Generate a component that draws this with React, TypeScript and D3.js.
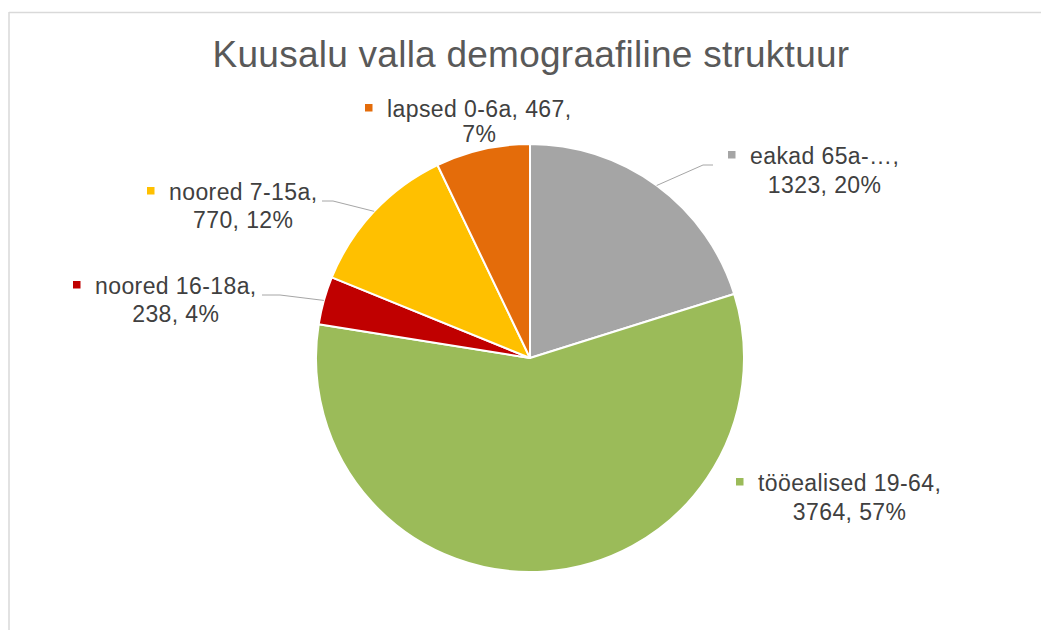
import React from "react";
import * as d3 from "d3";

const categories = ["eakad 65a-…", "tööealised 19-64", "noored 16-18a", "noored 7-15a", "lapsed 0-6a"];
const values = [1323, 3764, 238, 770, 467];
const percents = ["20%", "57%", "4%", "12%", "7%"];
const colors = ["#A5A5A5", "#9BBB59", "#C00000", "#FFC000", "#E46C0A"];
const title = "Kuusalu valla demograafiline struktuur";

// label layout: text line1 start x, baseline y, line gap, leader elbow
const labelLayout = [
  { x: 750, y: 164, gap: 28.5, leader: true, elbowX: 713, elbowLen: 10, firstLineHasValue: false },
  { x: 758, y: 491, gap: 28.5, leader: false, elbowX: 0, elbowLen: 0, firstLineHasValue: false },
  { x: 95, y: 294, gap: 28, leader: true, elbowX: 262, elbowLen: 18, firstLineHasValue: false },
  { x: 169, y: 200, gap: 28, leader: true, elbowX: 322, elbowLen: 11, firstLineHasValue: false },
  { x: 387, y: 117, gap: 25, leader: false, elbowX: 0, elbowLen: 0, firstLineHasValue: true },
];

const W = 1041;
const H = 630;
const cx = 530;
const cy = 358;
const R = 214;
const FONT = "'Liberation Sans', Arial, sans-serif";
const FS = 23;
const LS = 0.4;

let ctx: CanvasRenderingContext2D | null = null;
function measure(s: string, fs: number): number {
  if (typeof document === "undefined") return s.length * fs * 0.5;
  if (!ctx) ctx = document.createElement("canvas").getContext("2d");
  if (!ctx) return s.length * fs * 0.5;
  ctx.font = `${fs}px 'Liberation Sans', Arial, sans-serif`;
  return ctx.measureText(s).width + s.length * LS;
}

export default function App() {
  const pie = d3.pie<number>().sort(null).value((d) => d)(values);
  const arc = d3.arc<d3.PieArcDatum<number>>().innerRadius(0).outerRadius(R);
  return (
    <svg width={W} height={H} style={{ position: "absolute", left: 0, top: 0, background: "#fff" }}>
      <rect x={0} y={0} width={W} height={H} fill="#fff" />
      <line x1={9} y1={12.5} x2={W} y2={12.5} stroke="#D9D9D9" strokeWidth={1.5} />
      <line x1={9} y1={12} x2={9} y2={H} stroke="#D9D9D9" strokeWidth={1.5} />
      <text x={cx + 1} y={67} textAnchor="middle" fontFamily={FONT} fontSize={37} letterSpacing={0.25} fill="#595959">
        {title}
      </text>
      <g transform={`translate(${cx},${cy})`}>
        {pie.map((p, i) => (
          <path key={i} d={arc(p) || ""} fill={colors[i]} stroke="#fff" strokeWidth={2} strokeLinejoin="round" />
        ))}
      </g>
      {pie.map((p, i) => {
        const L = labelLayout[i];
        const mid = (p.startAngle + p.endAngle) / 2;
        const sx = cx + R * Math.sin(mid);
        const sy = cy - R * Math.cos(mid);
        const l1 = L.firstLineHasValue ? `${categories[i]}, ${values[i]},` : `${categories[i]},`;
        const line2 = L.firstLineHasValue ? percents[i] : `${values[i]}, ${percents[i]}`;
        const tw = measure(l1, FS);
        const textCenter = L.x + tw / 2;
        let leader = null;
        if (L.leader) {
          const ey = L.y + 1;
          const right = sx > cx;
          const ex = L.elbowX;
          const kx = right ? ex - L.elbowLen : ex + L.elbowLen;
          leader = (
            <polyline
              points={`${sx},${sy} ${kx},${ey} ${ex},${ey}`}
              fill="none"
              stroke="#A6A6A6"
              strokeWidth={1}
            />
          );
        }
        return (
          <g key={"l" + i}>
            {leader}
            <rect x={L.x - 22} y={L.y - 13} width={7.5} height={7.5} fill={colors[i]} />
            <text x={L.x} y={L.y} fontFamily={FONT} fontSize={FS} letterSpacing={LS} fill="#404040">
              {l1}
            </text>
            <text x={textCenter} y={L.y + L.gap} textAnchor="middle" fontFamily={FONT} fontSize={FS} letterSpacing={LS} fill="#404040">
              {line2}
            </text>
          </g>
        );
      })}
    </svg>
  );
}
